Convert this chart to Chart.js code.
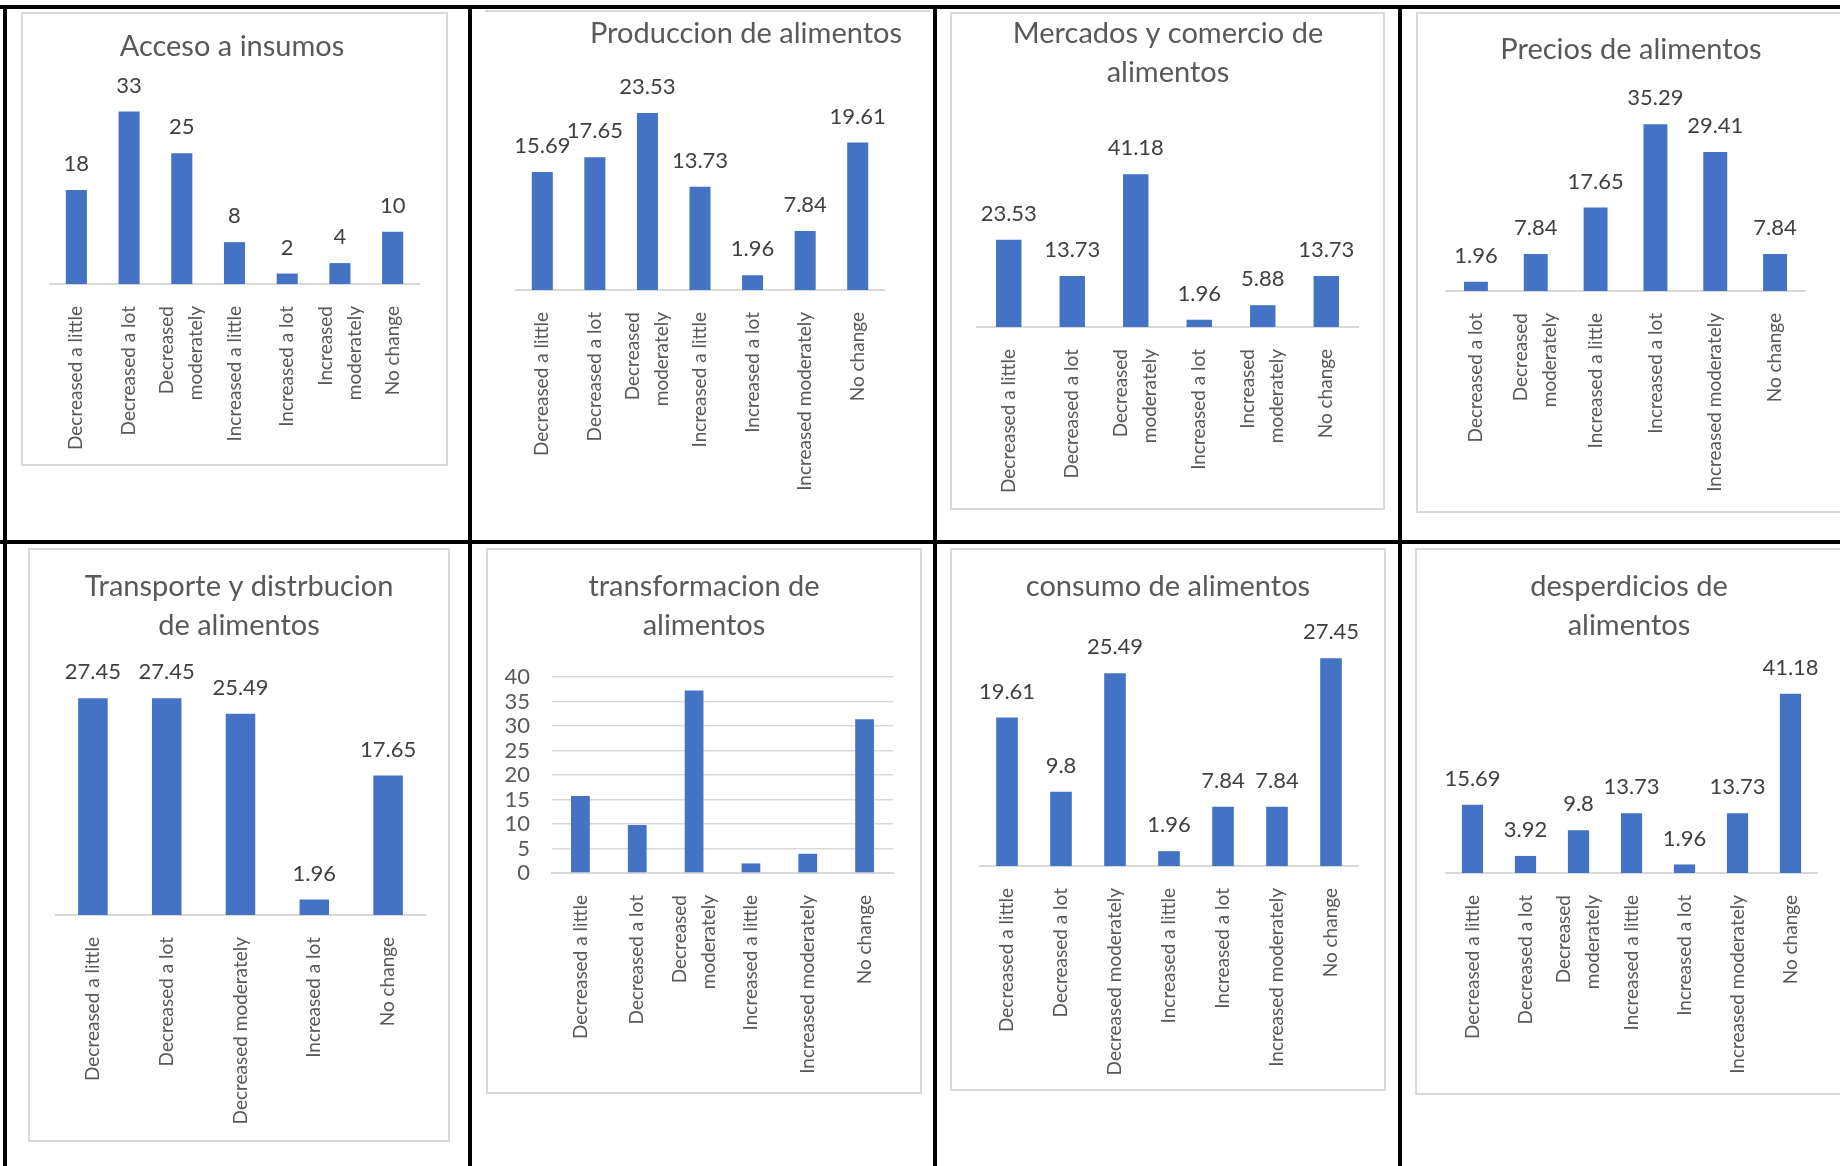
<!DOCTYPE html>
<html>
<head>
<meta charset="utf-8">
<script src="https://cdn.jsdelivr.net/npm/chart.js@4.4.1/dist/chart.umd.min.js"></script>
<style>
  html, body { margin: 0; padding: 0; background: #fff; }
  #page { position: relative; width: 1840px; height: 1166px; overflow: hidden; background: #fff; }
  .rule { position: absolute; background: #000; }
  .cell { position: absolute; overflow: hidden; }
  .box { position: absolute; border: 2px solid #d9d9d9; box-sizing: border-box; }
  .box.toponly { border-width: 2px 0 0 0; }
  canvas { position: absolute; }
</style>
</head>
<body>
<div id="page"></div>
<script>
// ---- data ----
const accesoLabels = ['Decreased a little', 'Decreased a lot', ['Decreased', 'moderately'], 'Increased a little', 'Increased a lot', ['Increased', 'moderately'], 'No change'];
const accesoValues = [18, 33, 25, 8, 2, 4, 10];

const produccionLabels = ['Decreased a little', 'Decreased a lot', ['Decreased', 'moderately'], 'Increased a little', 'Increased a lot', 'Increased moderately', 'No change'];
const produccionValues = [15.69, 17.65, 23.53, 13.73, 1.96, 7.84, 19.61];

const mercadosLabels = ['Decreased a little', 'Decreased a lot', ['Decreased', 'moderately'], 'Increased a lot', ['Increased', 'moderately'], 'No change'];
const mercadosValues = [23.53, 13.73, 41.18, 1.96, 5.88, 13.73];

const preciosLabels = ['Decreased a lot', ['Decreased', 'moderately'], 'Increased a little', 'Increased a lot', 'Increased moderately', 'No change'];
const preciosValues = [1.96, 7.84, 17.65, 35.29, 29.41, 7.84];

const transporteLabels = ['Decreased a little', 'Decreased a lot', 'Decreased moderately', 'Increased a lot', 'No change'];
const transporteValues = [27.45, 27.45, 25.49, 1.96, 17.65];

const transformacionLabels = ['Decreased a little', 'Decreased a lot', ['Decreased', 'moderately'], 'Increased a little', 'Increased moderately', 'No change'];
const transformacionValues = [15.69, 9.8, 37.25, 1.96, 3.92, 31.37];
const transformacionTicks = [0, 5, 10, 15, 20, 25, 30, 35, 40];

const consumoLabels = ['Decreased a little', 'Decreased a lot', 'Decreased moderately', 'Increased a little', 'Increased a lot', 'Increased moderately', 'No change'];
const consumoValues = [19.61, 9.8, 25.49, 1.96, 7.84, 7.84, 27.45];

const desperdiciosLabels = ['Decreased a little', 'Decreased a lot', ['Decreased', 'moderately'], 'Increased a little', 'Increased a lot', 'Increased moderately', 'No change'];
const desperdiciosValues = [15.69, 3.92, 9.8, 13.73, 1.96, 13.73, 41.18];

// ---- page frame ----
const page = document.getElementById('page');
const FONT = 'Lato, "Open Sans", sans-serif';

function rule(x, y, w, h) {
  const d = document.createElement('div');
  d.className = 'rule';
  Object.assign(d.style, { left: x + 'px', top: y + 'px', width: w + 'px', height: h + 'px' });
  page.appendChild(d);
}
rule(0, 5, 1840, 4);
rule(0, 540, 1840, 4);
rule(3, 5, 4, 1161);
rule(468, 5, 4, 1161);
rule(933, 5, 4, 1161);
rule(1398, 5, 4, 1161);

const cells = [
  { x: 7, y: 9, w: 461, h: 531 }, { x: 472, y: 9, w: 461, h: 531 },
  { x: 937, y: 9, w: 461, h: 531 }, { x: 1402, y: 9, w: 438, h: 531 },
  { x: 7, y: 544, w: 461, h: 622 }, { x: 472, y: 544, w: 461, h: 622 },
  { x: 937, y: 544, w: 461, h: 622 }, { x: 1402, y: 544, w: 438, h: 622 }
];

// value labels drawn on top of each bar
const valueLabels = {
  id: 'valueLabels',
  afterDatasetsDraw(chart, args, opts) {
    if (!opts.show) return;
    const { ctx } = chart;
    ctx.save();
    ctx.font = '22px ' + FONT;
    ctx.fillStyle = '#404040';
    ctx.textAlign = 'center';
    ctx.textBaseline = 'middle';
    chart.getDatasetMeta(0).data.forEach((bar, i) => {
      ctx.fillText(String(chart.data.datasets[0].data[i]), bar.x, bar.y - 26);
    });
    ctx.restore();
  }
};

// category labels read bottom-to-top, wrapped lines centred on the tick like Excel
const rotatedTicks = {
  id: 'rotatedTicks',
  afterDraw(chart) {
    const scale = chart.scales.x;
    const { ctx } = chart;
    ctx.save();
    ctx.font = '19px ' + FONT;
    ctx.fillStyle = '#595959';
    ctx.textAlign = 'right';
    ctx.textBaseline = 'middle';
    chart.data.labels.forEach((label, i) => {
      const lines = Array.isArray(label) ? label : [label];
      const x0 = scale.getPixelForTick(i);
      lines.forEach((line, j) => {
        ctx.save();
        ctx.translate(x0 + (j - (lines.length - 1) / 2) * 29, scale.top + 22);
        ctx.rotate(-Math.PI / 2);
        ctx.fillText(line, 0, 0);
        ctx.restore();
      });
    });
    ctx.restore();
  }
};

function panel(cellIdx, lay, title, labels, values) {
  const cell = cells[cellIdx];
  const div = document.createElement('div');
  div.className = 'cell';
  Object.assign(div.style, { left: cell.x + 'px', top: cell.y + 'px', width: cell.w + 'px', height: cell.h + 'px' });
  page.appendChild(div);

  const b = document.createElement('div');
  b.className = lay.border ? 'box' : 'box toponly';
  const bl = lay.border ? lay.left : lay.left + 10;
  const br = lay.border ? lay.right : 930;
  Object.assign(b.style, {
    left: (bl - cell.x) + 'px', top: (lay.top - cell.y) + 'px',
    width: (br - bl) + 'px', height: (lay.bottom - lay.top) + 'px'
  });
  div.appendChild(b);

  const cw = 2 * (lay.titleX - lay.left);
  const ch = lay.bottom - lay.top;
  const canvas = document.createElement('canvas');
  canvas.width = cw;
  canvas.height = ch;
  canvas.style.left = (lay.left - cell.x) + 'px';
  canvas.style.top = (lay.top - cell.y) + 'px';
  div.appendChild(canvas);

  const lh = 39;
  const padTop = lay.titleY - lay.top - lh / 2;
  const padBottom = lay.plotTop - lay.top - padTop - title.length * lh;
  const yTicks = lay.yTicks;

  new Chart(canvas.getContext('2d'), {
    type: 'bar',
    data: {
      labels: labels,
      datasets: [{
        data: values,
        backgroundColor: '#4472C4',
        barPercentage: lay.barPct || 0.4,
        categoryPercentage: 1
      }]
    },
    options: {
      responsive: false,
      animation: false,
      devicePixelRatio: 1,
      layout: { padding: 0 },
      plugins: {
        legend: { display: false },
        tooltip: { enabled: false },
        title: {
          display: true,
          text: title,
          color: '#595959',
          font: { family: FONT, size: 29, weight: 'normal', lineHeight: lh + 'px' },
          padding: { top: padTop, bottom: padBottom }
        },
        valueLabels: { show: !yTicks }
      },
      scales: {
        x: {
          grid: { display: false },
          border: { display: true, color: '#d9d9d9', width: 2 },
          ticks: { display: false },
          afterFit(scale) { scale.height = lay.bottom - lay.axisY; }
        },
        y: {
          min: 0,
          max: lay.yMax,
          display: true,
          grid: { display: !!yTicks, color: '#d9d9d9', lineWidth: 1.5, drawTicks: false },
          border: { display: false },
          ticks: {
            display: !!yTicks,
            autoSkip: false,
            color: '#595959',
            font: { family: FONT, size: 22 },
            padding: 22
          },
          afterBuildTicks(scale) {
            if (yTicks) scale.ticks = yTicks.map(v => ({ value: v }));
          },
          afterFit(scale) { scale.width = lay.plotLeft - lay.left; }
        },
        yR: {
          type: 'linear',
          position: 'right',
          display: true,
          grid: { display: false },
          border: { display: false },
          ticks: { display: false },
          afterFit(scale) { scale.width = lay.left + cw - lay.plotRight; }
        }
      }
    },
    plugins: [valueLabels, rotatedTicks]
  });
}

panel(0, { left: 21, top: 12, right: 448, bottom: 466, border: true, titleX: 232, titleY: 47, axisY: 284, plotLeft: 50, plotRight: 419, yMax: 35, plotTop: 101 },
  ['Acceso a insumos'], accesoLabels, accesoValues);
panel(1, { left: 475, top: 10, right: 1017, bottom: 540, border: false, titleX: 746, titleY: 34, axisY: 290, plotLeft: 516, plotRight: 884, yMax: 25, plotTop: 102 },
  ['Produccion de alimentos'], produccionLabels, produccionValues);
panel(2, { left: 950, top: 12, right: 1385, bottom: 510, border: true, titleX: 1168, titleY: 34, axisY: 327, plotLeft: 977, plotRight: 1358, yMax: 45, plotTop: 160 },
  ['Mercados y comercio de', 'alimentos'], mercadosLabels, mercadosValues);
panel(3, { left: 1416, top: 12, right: 1846, bottom: 513, border: true, titleX: 1631, titleY: 50, axisY: 291, plotLeft: 1446, plotRight: 1805, yMax: 40, plotTop: 102 },
  ['Precios de alimentos'], preciosLabels, preciosValues);
panel(4, { left: 28, top: 548, right: 450, bottom: 1142, border: true, titleX: 239, titleY: 587, axisY: 915, plotLeft: 56, plotRight: 425, yMax: 30, plotTop: 678 },
  ['Transporte y distrbucion', 'de alimentos'], transporteLabels, transporteValues);
panel(5, { left: 486, top: 548, right: 922, bottom: 1094, border: true, titleX: 704, titleY: 587, axisY: 873, plotLeft: 552, plotRight: 893, yMax: 40, plotTop: 677, yTicks: transformacionTicks, barPct: 0.33 },
  ['transformacion de', 'alimentos'], transformacionLabels, transformacionValues);
panel(6, { left: 950, top: 548, right: 1386, bottom: 1091, border: true, titleX: 1168, titleY: 587, axisY: 866, plotLeft: 980, plotRight: 1358, yMax: 30, plotTop: 639 },
  ['consumo de alimentos'], consumoLabels, consumoValues);
panel(7, { left: 1415, top: 548, right: 1845, bottom: 1095, border: true, titleX: 1629, titleY: 587, axisY: 873, plotLeft: 1446, plotRight: 1817, yMax: 45, plotTop: 677 },
  ['desperdicios de', 'alimentos'], desperdiciosLabels, desperdiciosValues);
</script>
</body>
</html>
